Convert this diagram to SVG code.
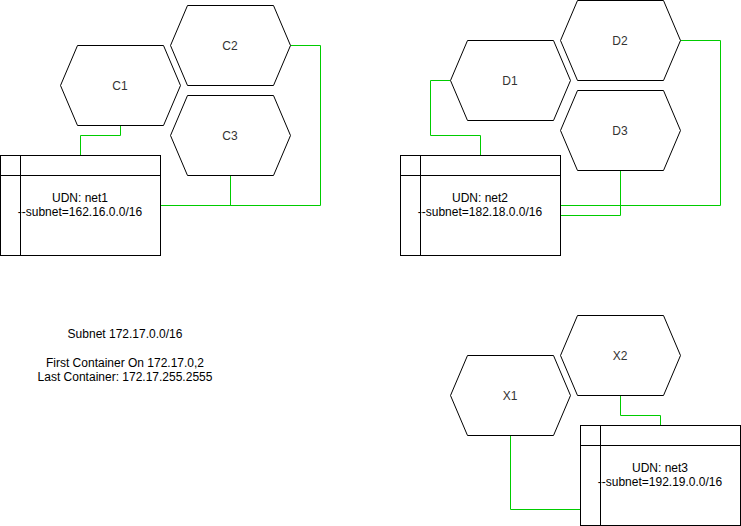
<svg xmlns="http://www.w3.org/2000/svg" width="741" height="526" viewBox="0 0 741 526">
<defs>
<style>
.hex{fill:#fff;stroke:#000;stroke-width:1}
.hl{font-family:"Liberation Sans",Arial,sans-serif;font-size:12px;fill:#333;text-anchor:middle}
.tb{fill:#fff;stroke:#000;stroke-width:1}
.ln{fill:none;stroke:#000;stroke-width:1}
.tt{font-family:"Liberation Sans",Arial,sans-serif;font-size:12px;fill:#000;text-anchor:middle}
.cn{fill:none;stroke:#00CC00;stroke-width:1}
</style>
</defs>
<rect width="741" height="526" fill="#fff"/>
<g id="connectors">
<polyline class="cn" points="120.5,125.5 120.5,135.5 80.5,135.5 80.5,155.5"/>
<polyline class="cn" points="230.5,175.5 230.5,205.5"/>
<polyline class="cn" points="160.5,205.5 320.5,205.5 320.5,45.5 290.5,45.5"/>
<polyline class="cn" points="450.5,80.5 430.5,80.5 430.5,135.5 480.5,135.5 480.5,155.5"/>
<polyline class="cn" points="680.5,40.5 720.5,40.5 720.5,205.5 560.5,205.5"/>
<polyline class="cn" points="620.5,170.5 620.5,215.5 560.5,215.5"/>
<polyline class="cn" points="620.5,395.5 620.5,415.5 660.5,415.5 660.5,425.5"/>
<polyline class="cn" points="510.5,435.5 510.5,509.5 580.5,509.5"/>
</g>
<g id="C1"><polygon class="hex" points="77.5,45.5 163.5,45.5 180.5,85.5 163.5,125.5 77.5,125.5 60.5,85.5"/><text class="hl" x="120" y="90">C1</text></g>
<g id="C2"><polygon class="hex" points="187.5,5.5 273.5,5.5 290.5,45.5 273.5,85.5 187.5,85.5 170.5,45.5"/><text class="hl" x="230" y="50">C2</text></g>
<g id="C3"><polygon class="hex" points="187.5,95.5 273.5,95.5 290.5,135.5 273.5,175.5 187.5,175.5 170.5,135.5"/><text class="hl" x="230" y="140">C3</text></g>
<g id="net1"><rect class="tb" x="0.5" y="155.5" width="160" height="100"/><line class="ln" x1="0.5" y1="175.5" x2="160.5" y2="175.5"/><line class="ln" x1="20.5" y1="155.5" x2="20.5" y2="255.5"/><text class="tt" x="80" y="202">UDN: net1</text><text class="tt" x="80" y="216">--subnet=162.16.0.0/16</text></g>
<g id="D1"><polygon class="hex" points="467.5,40.5 553.5,40.5 570.5,80.5 553.5,120.5 467.5,120.5 450.5,80.5"/><text class="hl" x="510" y="85">D1</text></g>
<g id="D2"><polygon class="hex" points="577.5,0.5 663.5,0.5 680.5,40.5 663.5,80.5 577.5,80.5 560.5,40.5"/><text class="hl" x="620" y="45">D2</text></g>
<g id="D3"><polygon class="hex" points="577.5,90.5 663.5,90.5 680.5,130.5 663.5,170.5 577.5,170.5 560.5,130.5"/><text class="hl" x="620" y="135">D3</text></g>
<g id="net2"><rect class="tb" x="400.5" y="155.5" width="160" height="100"/><line class="ln" x1="400.5" y1="175.5" x2="560.5" y2="175.5"/><line class="ln" x1="420.5" y1="155.5" x2="420.5" y2="255.5"/><text class="tt" x="480" y="202">UDN: net2</text><text class="tt" x="480" y="216">--subnet=182.18.0.0/16</text></g>
<g id="X1"><polygon class="hex" points="467.5,355.5 553.5,355.5 570.5,395.5 553.5,435.5 467.5,435.5 450.5,395.5"/><text class="hl" x="510" y="400">X1</text></g>
<g id="X2"><polygon class="hex" points="577.5,315.5 663.5,315.5 680.5,355.5 663.5,395.5 577.5,395.5 560.5,355.5"/><text class="hl" x="620" y="360">X2</text></g>
<g id="net3"><rect class="tb" x="580.5" y="425.5" width="160" height="100"/><line class="ln" x1="580.5" y1="445.5" x2="740.5" y2="445.5"/><line class="ln" x1="600.5" y1="425.5" x2="600.5" y2="525.5"/><text class="tt" x="660" y="472">UDN: net3</text><text class="tt" x="660" y="486">--subnet=192.19.0.0/16</text></g>
<g id="note"><text class="tt" x="125" y="338">Subnet 172.17.0.0/16</text><text class="tt" x="125" y="367">First Container On 172.17.0,2</text><text class="tt" x="125" y="381">Last Container: 172.17.255.2555</text></g>
</svg>
